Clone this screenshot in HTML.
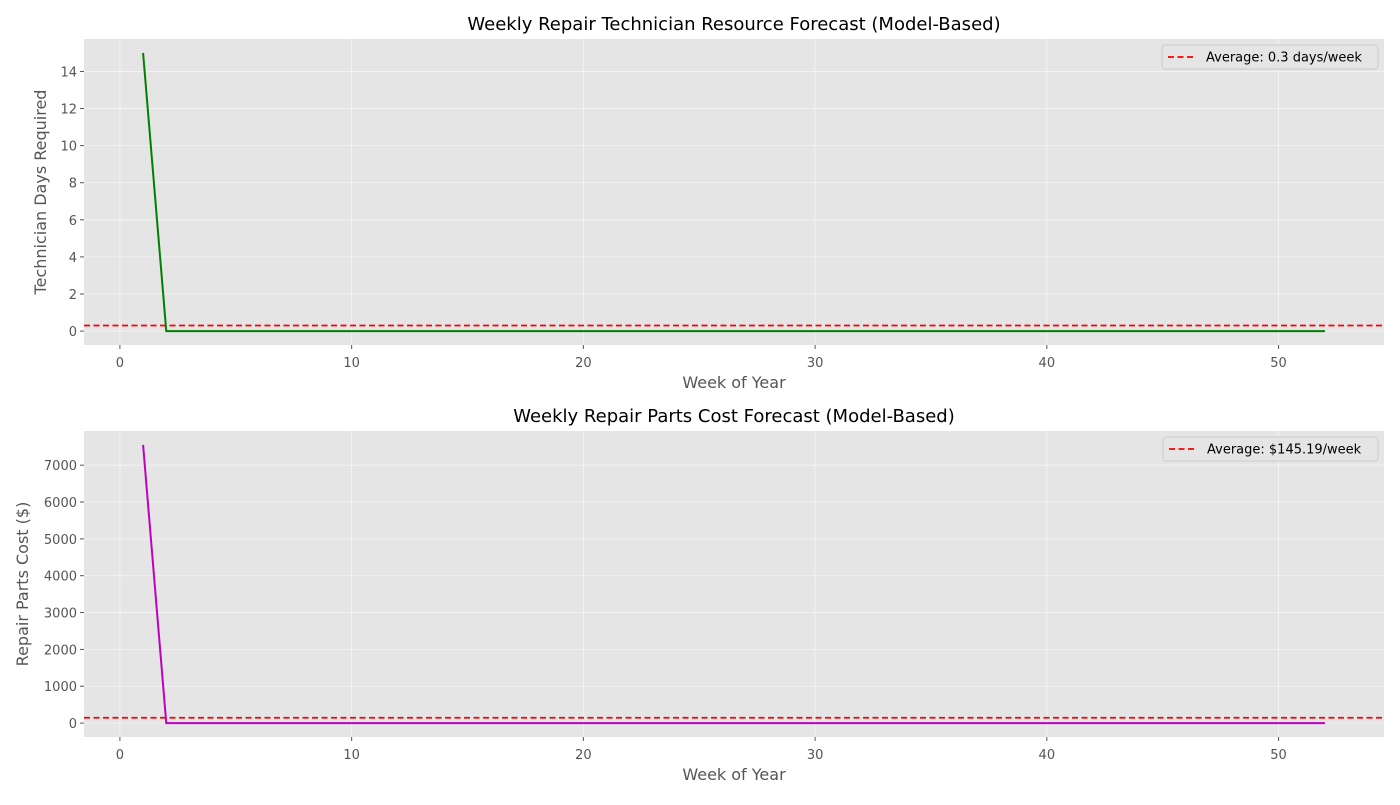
<!DOCTYPE html>
<html><head><meta charset="utf-8"><style>
body{margin:0;background:#fff;font-family:"Liberation Sans","DejaVu Sans",sans-serif}
svg text{font-family:"DejaVu Sans","Liberation Sans",sans-serif}
</style></head><body>
<svg id="fig" width="1400" height="800" xmlns="http://www.w3.org/2000/svg"></svg>
<script>
const weeks = Array.from({length:52},(_,i)=>i+1);
const techDays = [15].concat(Array(51).fill(0));
const partsCost = [7550].concat(Array(51).fill(0));
const techAvg = 0.3;
const costAvg = 145.19;
const xTicks = [0,10,20,30,40,50];
const techTicks = [0,2,4,6,8,10,12,14];
const costTicks = [0,1000,2000,3000,4000,5000,6000,7000];

const svg = document.getElementById('fig');
const NS='http://www.w3.org/2000/svg';
function mk(tag,attrs,parent){const e=document.createElementNS(NS,tag);for(const k in attrs)e.setAttribute(k,attrs[k]);(parent||svg).appendChild(e);return e;}

function panel(cfg){
  const g=mk('g',{});
  
  
  const L=84,R=1384,T=cfg.top,B=cfg.bottom;
  const xmin=-1.55,xmax=54.55;
  const ymax=Math.max(...cfg.data), ymin=0, pad=(ymax-ymin)*0.05;
  const y0=ymin-pad,y1=ymax+pad;
  const sx=v=>L+(v-xmin)/(xmax-xmin)*(R-L);
  const sy=v=>B-(v-y0)/(y1-y0)*(B-T);
  const bg=mk('rect',{x:L,y:T,width:R-L,height:B-T,fill:'#e5e5e5'},g);
  
  
  xTicks.forEach(t=>{
    mk('line',{x1:sx(t),x2:sx(t),y1:T,y2:B,stroke:'#fff','stroke-width':0.8,opacity:0.6},g);
    mk('line',{x1:sx(t),x2:sx(t),y1:B,y2:B+4,stroke:'#555'},g);
    const tx=mk('text',{x:sx(t),y:B+22,'text-anchor':'middle','font-size':13,fill:'#555'},g);
    tx.textContent=t;
    
    
  });
  cfg.ticks.forEach(t=>{
    mk('line',{x1:L,x2:R,y1:sy(t),y2:sy(t),stroke:'#fff','stroke-width':0.8,opacity:0.6},g);
    mk('line',{x1:L-4,x2:L,y1:sy(t),y2:sy(t),stroke:'#555'},g);
    const tx=mk('text',{x:L-7,y:sy(t)+5,'text-anchor':'end','font-size':13,fill:'#555'},g);
    tx.textContent=t;
    
    
  });
  const ln=mk('polyline',{points:weeks.map((w,i)=>sx(w)+','+sy(cfg.data[i])).join(' '),fill:'none',stroke:cfg.color,'stroke-width':2},g);
  
  
  const av=mk('line',{x1:L,x2:R,y1:sy(cfg.avg),y2:sy(cfg.avg),stroke:'#ff0000','stroke-width':1.8,'stroke-dasharray':'6,3.5'},g);
  
  
  const tt=mk('text',{x:(L+R)/2,y:T-9,'text-anchor':'middle','font-size':18,fill:'#000'},g);
  tt.textContent=cfg.title;
  
  
  const xl=mk('text',{x:(L+R)/2,y:B+43,'text-anchor':'middle','font-size':16,fill:'#555'},g);
  xl.textContent='Week of Year';
  
  
  const yc=(T+B)/2;
  const yl=mk('text',{x:cfg.ylx,y:yc,'text-anchor':'middle','font-size':16,fill:'#555',transform:`rotate(-90 ${cfg.ylx} ${yc})`},g);
  yl.textContent=cfg.ylabel;
  
  
  const lg=mk('g',{},g);
  
  
  const lw=cfg.legW;
  mk('rect',{x:R-6-lw,y:T+6,width:lw,height:24,rx:3,fill:'#e5e5e5',stroke:'#ccc'},lg);
  mk('line',{x1:R-6-lw+6,x2:R-6-lw+34,y1:T+18,y2:T+18,stroke:'#ff0000','stroke-width':1.8,'stroke-dasharray':'6,3.5'},lg);
  const lt=mk('text',{x:R-6-lw+44,y:T+22.5,'font-size':13,fill:'#000'},lg);
  lt.textContent=cfg.legend;
  
  
}
panel({name:'technician-days-chart',top:39,bottom:345,data:techDays,avg:techAvg,ticks:techTicks,color:'#008000',title:'Weekly Repair Technician Resource Forecast (Model-Based)',ylabel:'Technician Days Required',ylx:46,legend:'Average: 0.3 days/week',legW:216});
panel({name:'parts-cost-chart',top:431,bottom:737,data:partsCost,avg:costAvg,ticks:costTicks,color:'#bf00bf',title:'Weekly Repair Parts Cost Forecast (Model-Based)',ylabel:'Repair Parts Cost ($)',ylx:28,legend:'Average: $145.19/week',legW:215});
</script>
</body></html>
